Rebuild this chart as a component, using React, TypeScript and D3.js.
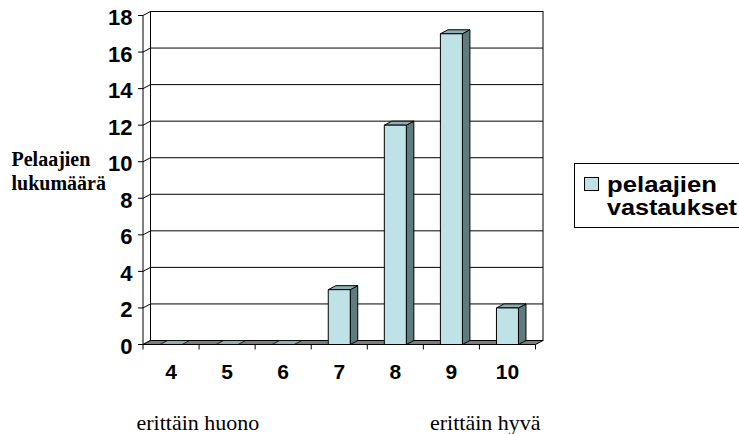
import React from "react";
import * as d3 from "d3";

// Survey answers: count of players per rating (4 = very poor ... 10 = very good)
const categories: string[] = ["4", "5", "6", "7", "8", "9", "10"];
const answers: number[] = [0, 0, 0, 3, 12, 17, 2];
const yTicks: number[] = [0, 2, 4, 6, 8, 10, 12, 14, 16, 18];
const seriesName: string[] = ["pelaajien", "vastaukset"];
const yTitle: string[] = ["Pelaajien", "lukumäärä"];
const scaleEnds: string[] = ["erittäin huono", "erittäin hyvä"];

const W = 739;
const H = 434;

// depth offset of the 3D box
const DX = 7.5;
const DY = -4;

const FRONT = "#BEE2E5";
const SIDE = "#5F7B7D";
const TOP = "#8DAFB2";
const FLOOR = "#7C7C7C";

export default function App() {
  const y = d3.scaleLinear().domain([0, 18]).range([344.5, 15.5]);
  const x = d3.scaleBand<string>().domain(categories).range([143, 535.5]).padding(0);
  const barW = 22;

  const x0 = x.range()[0];
  const x1 = x.range()[1];
  const wallL = x0 + DX;
  const wallR = x1 + DX;
  const y0 = y(0);

  const pts = (p: [number, number][]) => p.map((q) => q.join(",")).join(" ");

  return (
    <svg
      width={W}
      height={H}
      style={{ position: "absolute", left: 0, top: 0, background: "#fff" }}
      fontFamily="Arial, 'Liberation Sans', sans-serif"
    >
      <rect x={0} y={0} width={W} height={H} fill="#fff" />

      {/* back wall */}
      <rect
        x={wallL}
        y={y(18) + DY}
        width={wallR - wallL}
        height={y0 - y(18)}
        fill="#fff"
        stroke="#000"
        strokeWidth={1}
      />

      {/* gridlines on back wall and side wall */}
      {yTicks.map((t) => (
        <g key={"g" + t}>
          <line x1={wallL} x2={wallR} y1={y(t) + DY} y2={y(t) + DY} stroke="#000" strokeWidth={1} />
          <line x1={x0} x2={wallL} y1={y(t)} y2={y(t) + DY} stroke="#000" strokeWidth={1} />
        </g>
      ))}

      {/* floor */}
      <polygon
        points={pts([
          [x0, y0],
          [x1, y0],
          [wallR, y0 + DY],
          [wallL, y0 + DY],
        ])}
        fill={FLOOR}
        stroke="#000"
        strokeWidth={1}
      />

      {/* bars */}
      {categories.map((c, i) => {
        const v = answers[i];
        const cx = (x(c) as number) + x.bandwidth() / 2;
        const l = cx - barW / 2;
        const r = cx + barW / 2;
        const t = y(v);
        if (v === 0) {
          return (
            <polygon
              key={c}
              points={pts([
                [l, y0],
                [r, y0],
                [r + DX, y0 + DY],
                [l + DX, y0 + DY],
              ])}
              fill={TOP}
              stroke="#000"
              strokeWidth={0.8}
            />
          );
        }
        return (
          <g key={c} stroke="#000" strokeWidth={1} strokeLinejoin="round">
            <polygon
              points={pts([
                [r, t],
                [r + DX, t + DY],
                [r + DX, y0 + DY],
                [r, y0],
              ])}
              fill={SIDE}
            />
            <polygon
              points={pts([
                [l, t],
                [r, t],
                [r + DX, t + DY],
                [l + DX, t + DY],
              ])}
              fill={TOP}
            />
            <rect x={l} y={t} width={barW} height={y0 - t} fill={FRONT} />
          </g>
        );
      })}

      {/* value axis */}
      <line x1={x0} x2={x0} y1={y(18)} y2={y0} stroke="#000" strokeWidth={1} />
      {yTicks.map((t) => (
        <g key={"t" + t}>
          <line x1={x0 - 5} x2={x0} y1={y(t)} y2={y(t)} stroke="#000" strokeWidth={1} />
          <text
            x={132.5}
            y={y(t) + 9.5}
            textAnchor="end"
            fontSize={22}
            fontWeight="bold"
            fill="#000"
          >
            {t}
          </text>
        </g>
      ))}

      {/* category axis */}
      <line x1={x0} x2={x1} y1={y0} y2={y0} stroke="#000" strokeWidth={1} />
      {[...categories.map((c) => x(c) as number), x1].map((px, i) => (
        <line key={"xt" + i} x1={px} x2={px} y1={y0} y2={y0 + 5} stroke="#000" strokeWidth={1} />
      ))}
      {categories.map((c) => (
        <text
          key={"xl" + c}
          x={(x(c) as number) + x.bandwidth() / 2}
          y={378.5}
          textAnchor="middle"
          fontSize={21}
          fontWeight="bold"
          fill="#000"
        >
          {c}
        </text>
      ))}

      {/* value axis title */}
      <g fontFamily="'Liberation Serif', 'Times New Roman', serif" fontWeight="bold" fontSize={20}>
        <text x={11.5} y={166}>{yTitle[0]}</text>
        <text x={11.5} y={189.5}>{yTitle[1]}</text>
      </g>

      {/* scale end notes */}
      <g fontFamily="'Liberation Serif', 'Times New Roman', serif" fontSize={22}>
        <text x={136.5} y={429.5}>{scaleEnds[0]}</text>
        <text x={430} y={429.5}>{scaleEnds[1]}</text>
      </g>

      {/* legend */}
      <rect x={574.5} y={163.5} width={200} height={64} fill="#fff" stroke="#000" strokeWidth={1} />
      <rect x={584.5} y={177.5} width={14} height={13} fill={FRONT} stroke="#000" strokeWidth={1} />
      <g fontSize={21.5} fontWeight="bold" fill="#000">
        <text x={607} y={192} textLength={110} lengthAdjust="spacingAndGlyphs">
          {seriesName[0]}
        </text>
        <text x={607} y={215} textLength={130} lengthAdjust="spacingAndGlyphs">
          {seriesName[1]}
        </text>
      </g>
    </svg>
  );
}
